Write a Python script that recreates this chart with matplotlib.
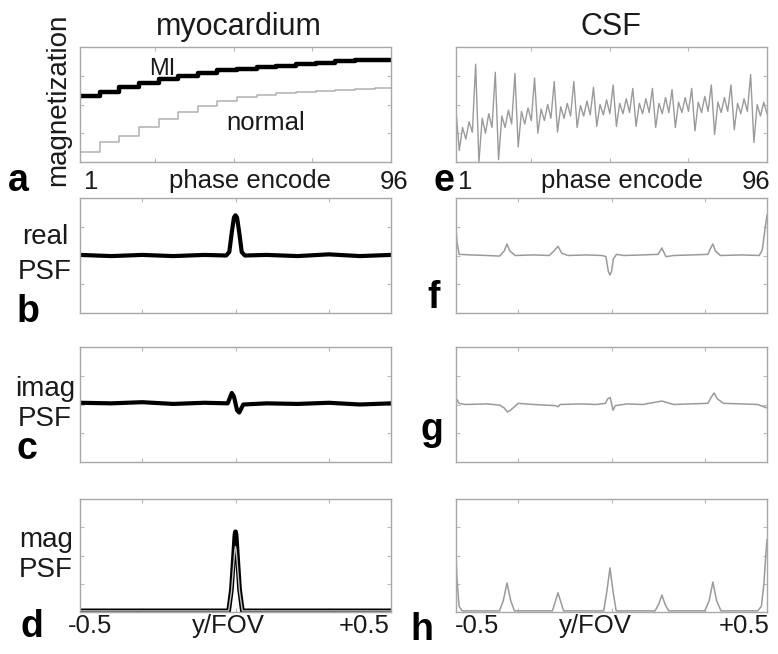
import matplotlib
matplotlib.use("Agg")
import matplotlib.pyplot as plt
import numpy as np

plt.rcParams['font.family'] = ['Liberation Sans', 'DejaVu Sans']

W, H = 778, 654

# ---------------- data ----------------
# panel a: step recovery curves, one level per 6 phase encodes
step_start = [1, 7, 13, 19, 25, 31, 37, 43, 49, 55, 61, 67, 73, 79, 85, 91]
mi_levels = [0.574, 0.609, 0.648, 0.687, 0.722, 0.748, 0.774, 0.796,
             0.809, 0.822, 0.835, 0.848, 0.861, 0.874, 0.883, 0.891]
normal_levels = [0.087, 0.174, 0.226, 0.304, 0.374, 0.435, 0.487, 0.530,
                 0.561, 0.583, 0.596, 0.609, 0.617, 0.626, 0.635, 0.643]

# panel e: CSF magnetization per phase encode (1..96)
csf_mag = [
    0.45, 0.10, 0.30, 0.20, 0.35, 0.26,
    0.85, 0.00, 0.38, 0.25, 0.42, 0.30,
    0.78, 0.02, 0.40, 0.30, 0.45, 0.33,
    0.77, 0.13, 0.44, 0.33, 0.47, 0.36,
    0.73, 0.25, 0.46, 0.36, 0.50, 0.38,
    0.70, 0.26, 0.48, 0.38, 0.51, 0.40,
    0.70, 0.30, 0.49, 0.40, 0.53, 0.41,
    0.65, 0.31, 0.50, 0.41, 0.54, 0.42,
    0.67, 0.31, 0.51, 0.42, 0.55, 0.43,
    0.64, 0.31, 0.51, 0.42, 0.55, 0.43,
    0.64, 0.30, 0.51, 0.42, 0.56, 0.43,
    0.63, 0.30, 0.52, 0.43, 0.56, 0.44,
    0.64, 0.27, 0.52, 0.43, 0.57, 0.44,
    0.67, 0.24, 0.52, 0.43, 0.56, 0.44,
    0.67, 0.28, 0.51, 0.42, 0.55, 0.44,
    0.76, 0.17, 0.50, 0.40, 0.52, 0.42,
]
encodes = list(range(1, 97))

# myocardium PSFs (x = y/FOV)
real_myo_x = [-0.5, -0.4, -0.3, -0.2, -0.1, -0.03, -0.02, -0.012, -0.005, 0.0,
              0.005, 0.012, 0.02, 0.03, 0.1, 0.2, 0.3, 0.4, 0.5]
real_myo_y = [0.505, 0.495, 0.505, 0.495, 0.505, 0.50, 0.53, 0.70, 0.83, 0.85,
              0.83, 0.70, 0.53, 0.50, 0.505, 0.495, 0.51, 0.495, 0.505]

imag_myo_x = [-0.5, -0.4, -0.3, -0.2, -0.1, -0.025, -0.012, -0.005, 0.0,
              0.005, 0.012, 0.025, 0.1, 0.2, 0.3, 0.4, 0.5]
imag_myo_y = [0.515, 0.51, 0.52, 0.505, 0.515, 0.51, 0.60, 0.57, 0.51,
              0.45, 0.43, 0.50, 0.51, 0.505, 0.515, 0.50, 0.51]

mag_myo_x = [-0.5, -0.022, -0.013, -0.006, -0.002, 0.0, 0.002, 0.006, 0.013, 0.022, 0.5]
mag_myo_y = [0.01, 0.01, 0.20, 0.50, 0.68, 0.71, 0.68, 0.50, 0.20, 0.01, 0.01]
mag_nor_y = [0.01, 0.01, 0.18, 0.42, 0.55, 0.58, 0.55, 0.42, 0.18, 0.01, 0.01]

# CSF PSFs
real_csf_x = [-0.5, -0.497, -0.49, -0.45, -0.4, -0.36, -0.345, -0.336, -0.327, -0.31,
              -0.25, -0.2, -0.185, -0.172, -0.16, -0.14, -0.08, -0.03, -0.018,
              -0.01, -0.005, 0.0, 0.006, 0.016, 0.04, 0.1, 0.15, 0.162, 0.175,
              0.2, 0.26, 0.31, 0.318, 0.326, 0.334, 0.35, 0.42, 0.475, 0.485,
              0.493, 0.5]
real_csf_y = [0.74, 0.62, 0.51, 0.505, 0.50, 0.495, 0.54, 0.60, 0.54, 0.50,
              0.505, 0.50, 0.54, 0.58, 0.52, 0.50, 0.505, 0.50, 0.49,
              0.36, 0.33, 0.36, 0.47, 0.51, 0.50, 0.505, 0.51, 0.565, 0.49,
              0.50, 0.505, 0.51, 0.56, 0.60, 0.54, 0.50, 0.505, 0.50, 0.55,
              0.72, 0.85]

imag_csf_x = [-0.5, -0.49, -0.47, -0.4, -0.36, -0.345, -0.335, -0.325, -0.3,
              -0.25, -0.18, -0.172, -0.165, -0.1, -0.05, -0.02, -0.012, -0.004,
              0.005, 0.012, 0.05, 0.1, 0.162, 0.2, 0.25, 0.31, 0.322, 0.33,
              0.34, 0.36, 0.42, 0.47, 0.5]
imag_csf_y = [0.556, 0.51, 0.50, 0.505, 0.495, 0.47, 0.435, 0.45, 0.51,
              0.50, 0.49, 0.48, 0.50, 0.505, 0.50, 0.51, 0.55, 0.56,
              0.45, 0.49, 0.505, 0.50, 0.53, 0.50, 0.505, 0.51, 0.57, 0.60,
              0.55, 0.51, 0.505, 0.50, 0.47]

mag_csf_x = [-0.5, -0.497, -0.49, -0.48, -0.36, -0.348, -0.336, -0.324, -0.312,
             -0.19, -0.182, -0.172, -0.162, -0.154, -0.025, -0.015, -0.005, 0.005,
             0.015, 0.14, 0.152, 0.162, 0.172, 0.184, 0.30, 0.314, 0.326, 0.338,
             0.352, 0.47, 0.482, 0.49, 0.496, 0.5]
mag_csf_y = [0.52, 0.30, 0.05, 0.01, 0.01, 0.10, 0.257, 0.10, 0.01,
             0.01, 0.08, 0.17, 0.08, 0.01, 0.01, 0.18, 0.39, 0.18,
             0.01, 0.01, 0.07, 0.15, 0.07, 0.01, 0.01, 0.10, 0.265, 0.10,
             0.01, 0.01, 0.05, 0.25, 0.50, 0.64]

# ---------------- layout ----------------
fig = plt.figure(figsize=(W / 100, H / 100), dpi=100)
fig.patch.set_facecolor('white')

col_x = [80, 456]
col_w = 311
row_top = [47, 198, 347, 499]
row_h = [115, 115, 115, 113]


def make_ax(col, row):
    left = col_x[col] / W
    bottom = 1 - (row_top[row] + row_h[row]) / H
    ax = fig.add_axes([left, bottom, col_w / W, row_h[row] / H])
    for s in ax.spines.values():
        s.set_color('#a8a8a8')
        s.set_linewidth(1.0)
    ax.tick_params(direction='in', length=3, width=0.8, color='#b8b8b8',
                   labelbottom=False, labelleft=False, top=True, right=True)
    ax.set_ylim(0, 1)
    ax.set_yticks([0.25, 0.5, 0.75])
    return ax


GRAY = '#9a9a9a'

# panel a
ax = make_ax(0, 0)
sx = step_start + [96]
ax.plot(sx, mi_levels + [mi_levels[-1]], drawstyle='steps-post', color='black', lw=3.2)
ax.plot(sx, normal_levels + [normal_levels[-1]], drawstyle='steps-post', color='#b0b0b0', lw=1.1)
ax.set_xlim(1, 96)
ax.set_xticks([24, 48, 72])

# panel e
ax = make_ax(1, 0)
ax.plot(encodes, csf_mag, color=GRAY, lw=1.0)
ax.set_xlim(1, 96)
ax.set_xticks([24, 48, 72])

psf_ticks = [-0.3, 0.0, 0.3]
# panel b
ax = make_ax(0, 1)
ax.plot(real_myo_x, real_myo_y, color='black', lw=3.0)
ax.set_xlim(-0.5, 0.5)
ax.set_xticks(psf_ticks)
# panel c
ax = make_ax(0, 2)
ax.plot(imag_myo_x, imag_myo_y, color='black', lw=3.0)
ax.set_xlim(-0.5, 0.5)
ax.set_xticks(psf_ticks)
# panel d
ax = make_ax(0, 3)
ax.plot(mag_myo_x, mag_myo_y, color='black', lw=3.4, solid_joinstyle='round')
ax.plot(mag_myo_x, mag_nor_y, color='#c0c0c0', lw=1.0)
ax.set_xlim(-0.5, 0.5)
ax.set_xticks(psf_ticks)
# panel f
ax = make_ax(1, 1)
ax.plot(real_csf_x, real_csf_y, color=GRAY, lw=1.1)
ax.set_xlim(-0.5, 0.5)
ax.set_xticks(psf_ticks)
# panel g
ax = make_ax(1, 2)
ax.plot(imag_csf_x, imag_csf_y, color=GRAY, lw=1.1)
ax.set_xlim(-0.5, 0.5)
ax.set_xticks(psf_ticks)
# panel h
ax = make_ax(1, 3)
ax.plot(mag_csf_x, mag_csf_y, color=GRAY, lw=1.1)
ax.set_xlim(-0.5, 0.5)
ax.set_xticks(psf_ticks)


# ---------------- text ----------------
def T(x, y, s, size, ha='left', weight='normal', color='#1a1a1a', **kw):
    fig.text(x / W, 1 - y / H, s, fontsize=size, ha=ha, va='baseline',
             fontweight=weight, color=color, **kw)


T(239, 35, 'myocardium', 22, ha='center')
T(611, 35, 'CSF', 22, ha='center')
fig.text(58 / W, 1 - 100 / H, 'magnetization', fontsize=20, rotation=90,
         ha='center', va='center', color='#1a1a1a')
T(162, 75, 'MI', 17, ha='center')
T(266, 130, 'normal', 18.5, ha='center')

LET = 27
T(8, 191, 'a', LET, weight='bold', color='black')
T(84, 189, '1', 18.5)
T(250, 188, 'phase encode', 18.5, ha='center')
T(394, 189, '96', 18.5, ha='center')

T(434, 191, 'e', LET, weight='bold', color='black')
T(458, 189, '1', 18.5)
T(622, 188, 'phase encode', 18.5, ha='center')
T(770, 189, '96', 18.5, ha='right')

T(45, 244, 'real', 20, ha='center')
T(45, 279, 'PSF', 20, ha='center')
T(17, 322, 'b', LET, weight='bold', color='black')
T(427, 308, 'f', LET, weight='bold', color='black')

T(45, 396, 'imag', 20, ha='center')
T(45, 426, 'PSF', 20, ha='center')
T(17, 459, 'c', LET, weight='bold', color='black')
T(420, 440, 'g', LET, weight='bold', color='black')

T(46, 547, 'mag', 20, ha='center')
T(46, 577, 'PSF', 20, ha='center')
T(20, 637, 'd', LET, weight='bold', color='black')
T(68, 633, '-0.5', 18.5)
T(228, 633, 'y/FOV', 18.5, ha='center')
T(390, 633, '+0.5', 18.5, ha='right')

T(410, 640, 'h', LET, weight='bold', color='black')
T(455, 633, '-0.5', 18.5)
T(595, 633, 'y/FOV', 18.5, ha='center')
T(770, 633, '+0.5', 18.5, ha='right')

fig.savefig('out.png', dpi=100, facecolor='white')
